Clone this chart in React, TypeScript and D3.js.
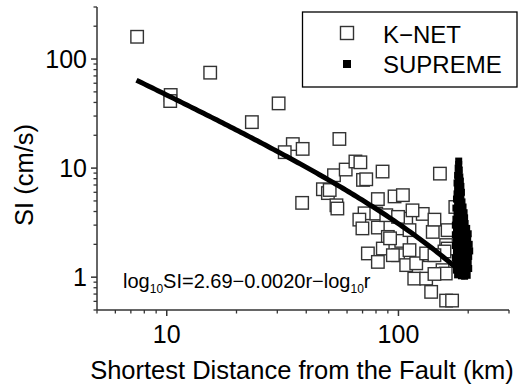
import React from "react";
import * as d3 from "d3";

// K-NET observations: [shortest distance r (km), SI (cm/s)]
const knetPoints: [number, number][] = [
  [7.45, 160], [10.4, 46.8], [10.35, 41.2], [15.4, 75], [23.3, 26.4], [30.4, 39.2],
  [55.6, 18.5], [35, 16.6], [38.6, 15.0], [32.3, 14.0], [52.7, 8.6], [59.2, 9.7],
  [47.2, 6.4], [49.6, 5.9], [38.4, 4.8], [54, 4.56], [54.5, 4.26], [85.4, 9.3],
  [65.2, 11.5], [68.5, 11.3], [70.3, 7.8], [72.6, 7.9], [151, 8.9], [81.5, 5.2],
  [96.2, 5.5], [104.5, 5.65], [71.4, 3.85], [67.8, 3.37], [80.2, 3.83], [108, 3.44],
  [127.3, 3.8], [69.9, 2.8], [81.5, 2.85], [90, 2.34], [102.8, 2.15], [111.6, 2.7],
  [140.6, 2.6], [73.8, 1.65], [81.5, 1.38], [99.6, 1.59], [108, 1.29], [111.6, 1.77],
  [117, 0.97], [131.7, 0.97], [138.4, 0.733], [160.6, 0.61], [170.4, 0.61], [136.7, 1.59],
  [155, 1.16], [160.6, 1.97], [88.6, 3.7], [115, 4.1], [85.6, 1.83], [119.3, 1.34],
  [94.6, 1.59], [131.7, 1.65], [176, 4.4], [163, 2.7], [163, 1.83], [160, 1.08],
  [143, 3.37], [158, 1.72], [143, 1.59], [143, 1.07], [92, 2.27], [99.6, 3.57], [50.5, 6.3],
];

// SUPREME observations: [r (km), SI (cm/s)]
const supremePoints: [number, number][] = [
  [182, 11.6], [182, 10.8], [181, 10.0], [183, 9.6], [182, 9.0], [180, 8.6], [184, 8.3],
  [181, 7.9], [185, 7.6], [179, 7.3], [183, 7.0], [186, 6.8], [180, 6.5], [184, 6.2],
  [187, 6.0], [179, 5.8], [182, 5.6], [186, 5.4], [178, 5.2], [183, 5.0], [188, 4.9],
  [180, 4.7], [185, 4.6], [190, 4.4], [177, 4.3], [182, 4.2], [187, 4.0], [192, 3.9],
  [179, 3.8], [184, 3.7], [189, 3.6], [193, 3.5], [177, 3.4], [182, 3.3], [187, 3.2],
  [194, 3.1], [176, 3.0], [181, 2.95], [186, 2.9], [191, 2.85], [197, 2.8], [178, 2.7],
  [184, 2.65], [189, 2.6], [195, 2.55], [200, 2.5], [176, 2.45], [181, 2.4], [187, 2.35],
  [193, 2.3], [199, 2.25], [178, 2.2], [184, 2.15], [190, 2.1], [196, 2.05], [202, 2.0],
  [176, 1.95], [181, 1.9], [187, 1.85], [193, 1.82], [199, 1.78], [203, 1.74], [178, 1.7],
  [184, 1.66], [190, 1.62], [196, 1.58], [201, 1.55], [176, 1.5], [182, 1.46], [188, 1.43],
  [194, 1.4], [200, 1.37], [177, 1.33], [183, 1.3], [189, 1.27], [195, 1.24], [201, 1.2],
  [178, 1.16], [184, 1.13], [190, 1.1], [196, 1.08], [180, 1.05], [187, 1.03], [193, 1.02],
  [198, 1.04],
];

// Regression: log10 SI = a - b r - log10 r
const fitA = 2.69;
const fitB = 0.002;
const fitRange: [number, number] = [7.4, 182];

const xMajorTicks = [10, 100];
const xMinorTicks = [5, 6, 7, 8, 9, 20, 30, 40, 50, 60, 70, 80, 90, 200, 300];
const yMajorTicks = [1, 10, 100];
const yMinorTicks = [0.5, 0.6, 0.7, 0.8, 0.9, 2, 3, 4, 5, 6, 7, 8, 9, 20, 30, 40, 50, 60, 70, 80, 90, 200, 300];

const FONT = "'Liberation Sans', Arial, sans-serif";

export default function App() {
  const left = 97, right = 509, top = 7, bottom = 310;
  const x = d3.scaleLog().domain([5, 300]).range([left, right]);
  const y = d3.scaleLog().domain([0.5, 300]).range([bottom, top]);

  const nSamples = 120;
  const fitData: [number, number][] = d3.range(nSamples + 1).map((i) => {
    const lr0 = Math.log10(fitRange[0]);
    const lr1 = Math.log10(fitRange[1]);
    const r = Math.pow(10, lr0 + ((lr1 - lr0) * i) / nSamples);
    return [r, Math.pow(10, fitA - fitB * r - Math.log10(r))];
  });
  const line = d3
    .line<[number, number]>()
    .x((d) => x(d[0]))
    .y((d) => y(d[1]));

  const axisColor = "#333";
  const ko = 12.5; // K-NET square size
  const so = 7; // SUPREME square size

  return (
    <svg
      width={522}
      height={389}
      style={{ position: "absolute", left: 0, top: 0, background: "#fff" }}
      fontFamily={FONT}
    >
      <rect x={0} y={0} width={522} height={389} fill="#fff" />
      {/* K-NET */}
      {knetPoints.map((d, i) => (
        <rect
          key={"k" + i}
          x={x(d[0]) - ko / 2}
          y={y(d[1]) - ko / 2}
          width={ko}
          height={ko}
          fill="#fff"
          stroke="#333"
          strokeWidth={1.4}
        />
      ))}
      {/* fit line */}
      <path d={line(fitData) || ""} fill="none" stroke="#000" strokeWidth={5} />
      {/* SUPREME */}
      {supremePoints.map((d, i) => (
        <rect
          key={"s" + i}
          x={x(d[0]) - so / 2}
          y={y(d[1]) - so / 2}
          width={so}
          height={so}
          fill="#000"
        />
      ))}

      {/* axes */}
      <line x1={left} x2={left} y1={top} y2={bottom} stroke={axisColor} strokeWidth={1.5} />
      <line x1={left} x2={right} y1={bottom} y2={bottom} stroke={axisColor} strokeWidth={1.5} />
      {yMajorTicks.map((t) => (
        <g key={"ym" + t}>
          <line x1={left - 6} x2={left} y1={y(t)} y2={y(t)} stroke={axisColor} strokeWidth={1.5} />
          <text x={left - 10} y={y(t)} dy="0.36em" textAnchor="end" fontSize={25} fill="#000">
            {t}
          </text>
        </g>
      ))}
      {yMinorTicks.map((t) => (
        <line key={"yn" + t} x1={left - 3.5} x2={left} y1={y(t)} y2={y(t)} stroke={axisColor} strokeWidth={1.3} />
      ))}
      {xMajorTicks.map((t) => (
        <g key={"xm" + t}>
          <line x1={x(t)} x2={x(t)} y1={bottom} y2={bottom + 6} stroke={axisColor} strokeWidth={1.5} />
          <text x={x(t)} y={343} textAnchor="middle" fontSize={25} fill="#000">
            {t}
          </text>
        </g>
      ))}
      {xMinorTicks.map((t) => (
        <line key={"xn" + t} x1={x(t)} x2={x(t)} y1={bottom} y2={bottom + 3.5} stroke={axisColor} strokeWidth={1.3} />
      ))}

      {/* axis titles */}
      <text x={302} y={379} textAnchor="middle" fontSize={25.5} fill="#000">
        Shortest Distance from the Fault (km)
      </text>
      <text
        transform="translate(24,175) rotate(-90)"
        textAnchor="middle"
        dy="0.36em"
        fontSize={25.5}
        fill="#000"
      >
        SI (cm/s)
      </text>

      {/* equation */}
      <text x={123} y={288} fontSize={20} fill="#000">
        log<tspan fontSize={12} dy={5}>10</tspan>
        <tspan dy={-5}>SI=2.69−0.0020r−log</tspan>
        <tspan fontSize={12} dy={5}>10</tspan>
        <tspan dy={-5}>r</tspan>
      </text>

      {/* legend */}
      <rect x={302.5} y={12} width={214.5} height={75} fill="#fff" stroke="#000" strokeWidth={1.3} />
      <rect x={347 - 6.5} y={33 - 6.5} width={13} height={13} fill="#fff" stroke="#333" strokeWidth={1.4} />
      <text x={383} y={43} fontSize={24} fill="#000">K−NET</text>
      <rect x={347 - 4} y={64 - 4} width={8} height={8} fill="#000" />
      <text x={383} y={73} fontSize={24} fill="#000">SUPREME</text>
    </svg>
  );
}
